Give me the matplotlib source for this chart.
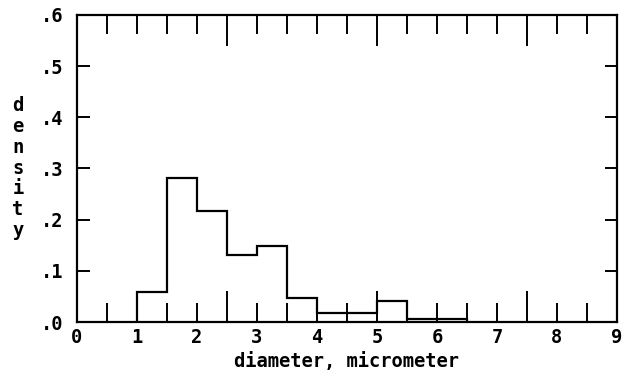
import numpy as np
import matplotlib.pyplot as plt

# histogram of particle diameters
bin_edges = [1.0, 1.5, 2.0, 2.5, 3.0, 3.5, 4.0, 4.5, 5.0, 5.5, 6.0, 6.5]
density = [0.058, 0.282, 0.216, 0.130, 0.148, 0.047, 0.018, 0.018, 0.041, 0.005, 0.005]

x_labels = ['0', '1', '2', '3', '4', '5', '6', '7', '8', '9']
y_ticks = [0.0, 0.1, 0.2, 0.3, 0.4, 0.5, 0.6]
y_labels = ['.0', '.1', '.2', '.3', '.4', '.5', '.6']

font = {'family': 'DejaVu Sans Mono', 'weight': 'bold', 'size': 13.5}

fig = plt.figure(figsize=(6.26, 3.76), dpi=100)
W, H = 626, 376
ax = fig.add_axes([77 / W, (H - 322) / H, 540 / W, 307 / H])

ax.stairs(density, bin_edges, color='black', linewidth=1.6)

ax.set_xlim(0, 9)
ax.set_ylim(0, 0.6)
for s in ax.spines.values():
    s.set_linewidth(1.6)

# x ticks: short every 0.5, long every 2.5, labels on integers
ax.set_xticks(np.arange(0, 9.01, 2.5))
ax.set_xticks(np.arange(0, 9.01, 0.5), minor=True)
ax.tick_params(axis='x', which='major', direction='in', length=22, width=1.4,
               top=True, bottom=True, labelbottom=False)
ax.tick_params(axis='x', which='minor', direction='in', length=14, width=1.4,
               top=True, bottom=True)
sec = ax.secondary_xaxis('bottom')
sec.set_xticks(range(len(x_labels)))
sec.set_xticklabels(x_labels, fontdict=font)
sec.tick_params(length=0, pad=4)
sec.spines['bottom'].set_visible(False)

ax.set_yticks(y_ticks)
ax.set_yticklabels(y_labels, fontdict=font)
ax.tick_params(axis='y', direction='in', length=9, width=1.4, left=True, right=True, pad=10)

ax.text(347 / W, (H - 362) / H, 'diameter, micrometer', transform=fig.transFigure,
        ha='center', va='center', **font)
fig.text(18 / W, (H - 168) / H, '\n'.join('density'), ha='center', va='center',
         linespacing=1.12, **font)

fig.savefig('out.png', dpi=100, facecolor='white')
